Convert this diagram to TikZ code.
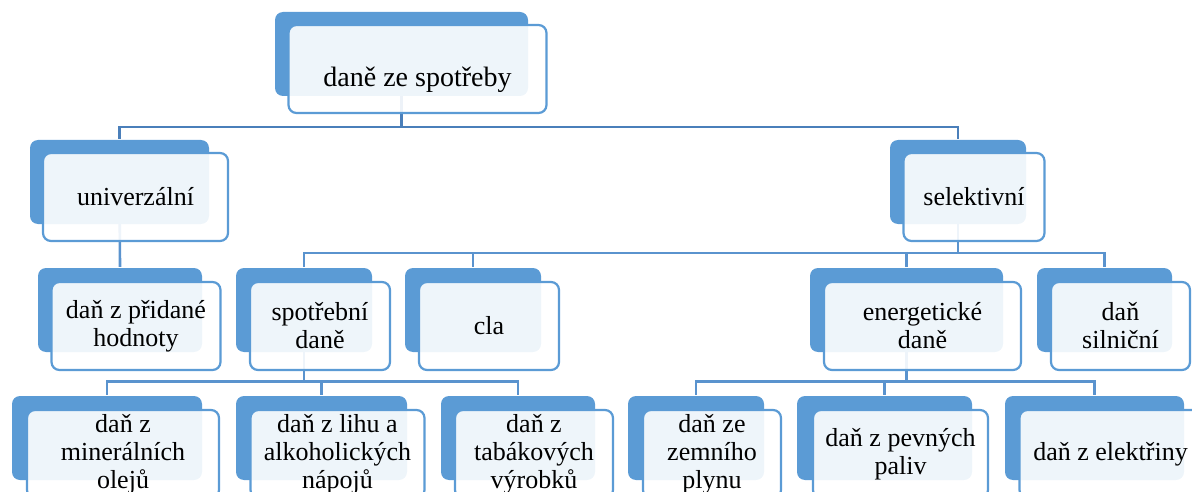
\documentclass[tikz,border=0pt]{standalone}
\usepackage{fontspec}
\setmainfont{Liberation Serif}
\usetikzlibrary{backgrounds}
\definecolor{smartblue}{HTML}{5B9BD5}
\definecolor{topline}{HTML}{4A7FBA}
\definecolor{subline}{HTML}{5A93CE}

\begin{document}
\begin{tikzpicture}[x=1pt, y=-1pt,
                    line width=2.4pt,
                    font=\fontsize{26}{28}\selectfont,
                    ]
    \tikzstyle{back}=[rectangle, rounded corners=8pt, fill=smartblue, minimum height=84pt, inner sep=0pt];
    \tikzstyle{front}=[rectangle, rounded corners=8pt, draw=smartblue, line width=2.2pt, fill=white, fill opacity=0.9, text opacity=1, minimum height=88pt, inner sep=2pt, align=center];
    \tikzstyle{link}=[draw=subline, line width=2.6pt];
    \tikzstyle{toplink}=[link, draw=topline, line width=2.8pt];

    \useasboundingbox (0,0) rectangle (1192,492);
    \clip (0,0) rectangle (1192,492);

    % level 0
    \node[back, minimum width=253pt] (top) at (401.5,54) {};
    \node[front, minimum width=258pt, text height=42pt, font=\fontsize{28}{30}\selectfont] (topF) at ([shift={(16,15)}]top.center) {daně ze spotřeby};

    % level 1
    \node[back, minimum width=179pt] (univ) at (119.5,182) {};
    \node[front, minimum width=185pt] (univF) at ([shift={(16,15)}]univ.center) {univerzální};
    \node[back, minimum width=136pt] (sel) at (958,182) {};
    \node[front, minimum width=141pt] (selF) at ([shift={(16,15)}]sel.center) {selektivní};

    % level 2
    \node[back, minimum width=164pt] (dph) at (120,310) {};
    \node[front, minimum width=169pt] (dphF) at ([shift={(16,16)}]dph.center) {daň z přidané\\hodnoty};
    \node[back, minimum width=136pt] (spot) at (304,310) {};
    \node[front, minimum width=140pt] (spotF) at ([shift={(16,16)}]spot.center) {spotřební\\daně};
    \node[back, minimum width=136pt] (cla) at (473,310) {};
    \node[front, minimum width=140pt] (claF) at ([shift={(16,16)}]cla.center) {cla};
    \node[back, minimum width=193pt] (ener) at (906.5,310) {};
    \node[front, minimum width=197pt] (enerF) at ([shift={(16,16)}]ener.center) {energetické\\daně};
    \node[back, minimum width=135pt] (siln) at (1104.5,310) {};
    \node[front, minimum width=139pt] (silnF) at ([shift={(16,16)}]siln.center) {daň\\silniční};

    % level 3
    \node[back, minimum width=190pt] (miner) at (107,438) {};
    \node[front, minimum width=192pt] (minerF) at ([shift={(16,16)}]miner.center) {daň z\\minerálních\\olejů};
    \node[back, minimum width=171pt] (lih) at (321.5,438) {};
    \node[front, minimum width=174pt] (lihF) at ([shift={(16,16)}]lih.center) {daň z lihu a\\alkoholických\\nápojů};
    \node[back, minimum width=154pt] (tabak) at (518,438) {};
    \node[front, minimum width=158pt] (tabakF) at ([shift={(16,16)}]tabak.center) {daň z\\tabákových\\výrobků};
    \node[back, minimum width=136pt] (plyn) at (696,438) {};
    \node[front, minimum width=138pt] (plynF) at ([shift={(16,16)}]plyn.center) {daň ze\\zemního\\plynu};
    \node[back, minimum width=175pt] (pevn) at (884.5,438) {};
    \node[front, minimum width=175pt] (pevnF) at ([shift={(16,16)}]pevn.center) {daň z pevných\\paliv};
    \node[back, minimum width=179pt] (elek) at (1094.5,438) {};
    \node[front, minimum width=182pt] (elekF) at ([shift={(16,16)}]elek.center) {daň z elektřiny};

    % connectors behind the boxes
    \begin{pgfonlayer}{background}
        \coordinate (bus1) at (0,127);
        \coordinate (bus2) at (0,253);
        \coordinate (bus3) at (0,381.5);
        \path[toplink] (top.center) -- (bus1 -| top.center);
        \path[toplink] (univ.north) |- (bus1 -| top.center) -| (sel.north);
        \path[link] (univ.center) -- (dph.north);
        \path[link] (sel.center) -- (bus2 -| sel.center);
        \path[link] (spot.north) |- (bus2 -| sel.center) -| (siln.north);
        \path[link] (cla.north) -- (cla.north |- bus2);
        \path[link] (ener.north) -- (ener.north |- bus2);
        \path[link] (spot.center) -- (bus3 -| spot.center);
        \path[link] (miner.north) |- (bus3 -| spot.center) -| (tabak.north);
        \path[link] (lih.north) -- (lih.north |- bus3);
        \path[link] (ener.center) -- (bus3 -| ener.center);
        \path[link] (plyn.north) |- (bus3 -| ener.center) -| (elek.north);
        \path[link] (pevn.north) -- (pevn.north |- bus3);
    \end{pgfonlayer}
\end{tikzpicture}
\end{document}
